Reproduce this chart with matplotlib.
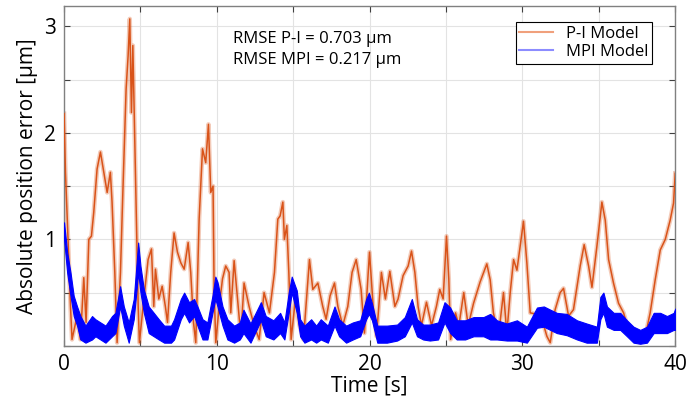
import matplotlib
matplotlib.use("Agg")
import matplotlib.pyplot as plt
from matplotlib.lines import Line2D
import numpy as np

plt.rcParams['font.family'] = ['Open Sans', 'DejaVu Sans']

# P-I model error (time [s], error [um])
t_pi = [0, 0.09, 0.26, 0.42, 0.52, 0.85, 1.07, 1.29, 1.44, 1.62,
        1.79, 1.94, 2.16, 2.38, 2.6, 2.82, 3.03, 3.14, 3.32, 3.47,
        3.69, 3.84, 4.06, 4.19, 4.3, 4.41, 4.5, 4.58, 4.71, 4.85,
        4.93, 5.22, 5.5, 5.72, 5.87, 5.98, 6.2, 6.42, 6.63, 6.77,
        6.98, 7.2, 7.42, 7.64, 7.86, 8.12, 8.29, 8.47, 8.62, 8.84,
        9.06, 9.27, 9.45, 9.6, 9.75, 9.82, 9.93, 10.15, 10.37, 10.58,
        10.8, 10.91, 11.13, 11.35, 11.57, 11.78, 12.11, 12.44, 12.77, 13.09,
        13.44, 13.77, 13.99, 14.14, 14.32, 14.42, 14.58, 14.71, 14.86, 15.14,
        15.41, 15.67, 16.06, 16.28, 16.61, 16.93, 17.15, 17.41, 17.7, 17.92,
        18.24, 18.57, 18.85, 19.12, 19.44, 19.66, 19.99, 20.23, 20.45, 20.77,
        21.03, 21.32, 21.65, 21.86, 22.19, 22.52, 22.74, 22.96, 23.17, 23.39,
        23.72, 24.05, 24.37, 24.59, 24.81, 25.03, 25.18, 25.3, 25.62, 25.84,
        26.16, 26.45, 26.8, 27.23, 27.67, 27.89, 28.1, 28.43, 28.76, 28.98,
        29.2, 29.42, 29.64, 30.07, 30.29, 30.51, 30.84, 31.16, 31.6, 31.82,
        32.14, 32.47, 32.69, 33.02, 33.34, 33.78, 34.04, 34.33, 34.55, 34.87,
        35.2, 35.42, 35.64, 35.96, 36.29, 36.62, 36.94, 37.27, 37.71, 38.04,
        38.36, 38.69, 39.02, 39.35, 39.67, 39.89, 40.0]
e_pi = [2.18, 1.63, 1.0, 0.37, 0.06, 0.28, 0.06, 0.64, 0.22, 1.0,
        1.03, 1.25, 1.66, 1.82, 1.63, 1.44, 1.63, 1.35, 0.69, 0.03,
        0.69, 1.41, 2.41, 2.72, 3.07, 2.19, 2.82, 2.25, 1.31, 0.37,
        0.03, 0.44, 0.81, 0.91, 0.37, 0.72, 0.44, 0.56, 0.37, 0.22,
        0.69, 1.06, 0.88, 0.78, 0.72, 0.97, 0.69, 0.22, 0.03, 1.19,
        1.85, 1.72, 2.08, 1.44, 1.5, 0.53, 0.03, 0.37, 0.63, 0.75,
        0.69, 0.31, 0.8, 0.44, 0.09, 0.59, 0.37, 0.19, 0.06, 0.5,
        0.31, 0.69, 1.19, 1.22, 1.35, 1.0, 1.13, 0.69, 0.06, 0.44,
        0.19, 0.06, 0.81, 0.53, 0.59, 0.37, 0.25, 0.47, 0.59, 0.37,
        0.19, 0.37, 0.69, 0.81, 0.53, 0.12, 0.88, 0.37, 0.09, 0.69,
        0.44, 0.7, 0.37, 0.44, 0.66, 0.75, 0.89, 0.69, 0.37, 0.19,
        0.41, 0.19, 0.37, 0.53, 0.44, 1.03, 0.63, 0.06, 0.31, 0.19,
        0.5, 0.19, 0.4, 0.6, 0.77, 0.62, 0.31, 0.09, 0.5, 0.12,
        0.5, 0.81, 0.71, 1.17, 0.78, 0.31, 0.3, 0.31, 0.09, 0.03,
        0.34, 0.5, 0.54, 0.28, 0.34, 0.75, 0.95, 0.75, 0.55, 0.93,
        1.35, 1.18, 0.81, 0.59, 0.4, 0.31, 0.15, 0.06, 0.03, 0.09,
        0.31, 0.62, 0.9, 1.0, 1.18, 1.34, 1.62]

# MPI model error band (lower / upper edge of the noisy trace)
t_mpi = [0, 0.2, 0.42, 0.63, 0.85, 1.07, 1.4, 1.83, 2.05, 2.38,
         2.71, 3.14, 3.36, 3.67, 3.91, 4.23, 4.56, 4.85, 5.0, 5.22,
         5.54, 5.87, 6.2, 6.55, 7.0, 7.2, 7.64, 7.86, 8.18, 8.51,
         8.73, 9.06, 9.38, 9.71, 9.9, 10.04, 10.37, 10.69, 11.13, 11.5,
         11.74, 12.2, 12.88, 13.2, 13.7, 14.14, 14.42, 14.7, 14.9, 15.23,
         15.45, 15.73, 16.17, 16.5, 16.8, 17.26, 17.7, 18.0, 18.46, 18.9,
         19.38, 19.77, 19.95, 20.15, 20.5, 21.13, 21.8, 22.3, 22.76, 23.1,
         23.5, 23.94, 24.48, 24.9, 25.27, 25.7, 26.25, 26.8, 27.45, 27.89,
         28.33, 28.98, 29.64, 30.29, 30.95, 31.4, 31.82, 32.25, 32.9, 33.57,
         34.2, 34.87, 35.1, 35.3, 35.53, 35.97, 36.4, 36.84, 37.27, 37.71,
         38.15, 38.59, 39.02, 39.46, 39.9, 40.0]
lo_mpi = [1.0, 0.69, 0.47, 0.28, 0.19, 0.06, 0.03, 0.06, 0.09, 0.06,
          0.03, 0.09, 0.12, 0.37, 0.19, 0.03, 0.25, 0.69, 0.5, 0.31,
          0.12, 0.09, 0.06, 0.03, 0.03, 0.06, 0.25, 0.31, 0.22, 0.28,
          0.19, 0.06, 0.06, 0.31, 0.44, 0.37, 0.19, 0.06, 0.03, 0.06,
          0.12, 0.03, 0.24, 0.09, 0.06, 0.12, 0.06, 0.31, 0.5, 0.31,
          0.09, 0.03, 0.06, 0.03, 0.06, 0.03, 0.19, 0.09, 0.03, 0.06,
          0.09, 0.25, 0.3, 0.24, 0.03, 0.03, 0.05, 0.09, 0.22, 0.09,
          0.06, 0.05, 0.06, 0.22, 0.12, 0.06, 0.06, 0.09, 0.09, 0.06,
          0.06, 0.05, 0.05, 0.03, 0.17, 0.18, 0.15, 0.12, 0.1, 0.06,
          0.03, 0.03, 0.25, 0.31, 0.18, 0.15, 0.15, 0.09, 0.03, 0.02,
          0.03, 0.12, 0.12, 0.12, 0.15, 0.15]
hi_mpi = [1.16, 0.88, 0.69, 0.47, 0.37, 0.28, 0.19, 0.28, 0.25, 0.22,
          0.19, 0.28, 0.31, 0.56, 0.37, 0.22, 0.44, 0.97, 0.75, 0.53,
          0.37, 0.31, 0.25, 0.19, 0.19, 0.25, 0.44, 0.5, 0.41, 0.44,
          0.37, 0.25, 0.22, 0.47, 0.65, 0.6, 0.37, 0.25, 0.19, 0.22,
          0.34, 0.21, 0.41, 0.28, 0.24, 0.31, 0.22, 0.5, 0.65, 0.52,
          0.25, 0.19, 0.25, 0.19, 0.25, 0.19, 0.37, 0.25, 0.19, 0.22,
          0.24, 0.44, 0.5, 0.4, 0.19, 0.19, 0.2, 0.27, 0.44, 0.25,
          0.2, 0.2, 0.22, 0.41, 0.36, 0.24, 0.24, 0.27, 0.27, 0.3,
          0.24, 0.21, 0.24, 0.18, 0.36, 0.37, 0.34, 0.31, 0.3, 0.24,
          0.21, 0.18, 0.46, 0.5, 0.37, 0.31, 0.31, 0.24, 0.18, 0.15,
          0.18, 0.31, 0.31, 0.28, 0.31, 0.35]

orange = '#D95319'
blue = '#0000FF'

fig = plt.figure(figsize=(6.89, 4.05), dpi=100)
ax = fig.add_axes([0.093, 0.146, 0.887, 0.839])

ax.plot(t_pi, e_pi, color=orange, lw=3.2, alpha=0.3, zorder=2)
ax.plot(t_pi, e_pi, color=orange, lw=1.1, zorder=3)
ax.fill_between(t_mpi, lo_mpi, hi_mpi, color=blue, lw=0.8, edgecolor=blue, zorder=4)

ax.set_xlim(0, 40)
ax.set_ylim(0, 3.19)
ax.set_xticks(np.arange(0, 41, 5))
ax.set_xticklabels(['0', '', '10', '', '20', '', '30', '', '40'])
ax.set_yticks(np.arange(0, 3.01, 0.5))
ax.set_yticklabels(['', '', '1', '', '2', '', '3'])
ax.tick_params(direction='in', length=4, width=0.8, color='#404040',
               top=True, right=True, labelsize=15, pad=6)
ax.grid(True, color='#e3e3e3', lw=0.8)
ax.set_axisbelow(True)
for s in ax.spines.values():
    s.set_color('#808080')
    s.set_linewidth(1.0)

ax.set_xlabel('Time [s]', fontsize=15, labelpad=0)
ax.set_ylabel('Absolute position error [μm]', fontsize=15, labelpad=4)

ax.text(0.277, 0.873, 'RMSE P-I = 0.703 μm\nRMSE MPI = 0.217 μm',
        transform=ax.transAxes, fontsize=12, va='center', ha='left',
        linespacing=1.45)

handles = [Line2D([], [], color='#F0A07C', lw=1.5),
           Line2D([], [], color='#8C8CFF', lw=1.5)]
leg = ax.legend(handles, ['P-I Model', 'MPI Model'], loc='upper right',
                bbox_to_anchor=(0.962, 0.952), fontsize=12, fancybox=False,
                framealpha=1, edgecolor='black', borderpad=0.2,
                handlelength=2.0, labelspacing=0.15, handletextpad=0.8,
                borderaxespad=0)
leg.get_frame().set_linewidth(0.8)

fig.savefig('out.png', dpi=100)
